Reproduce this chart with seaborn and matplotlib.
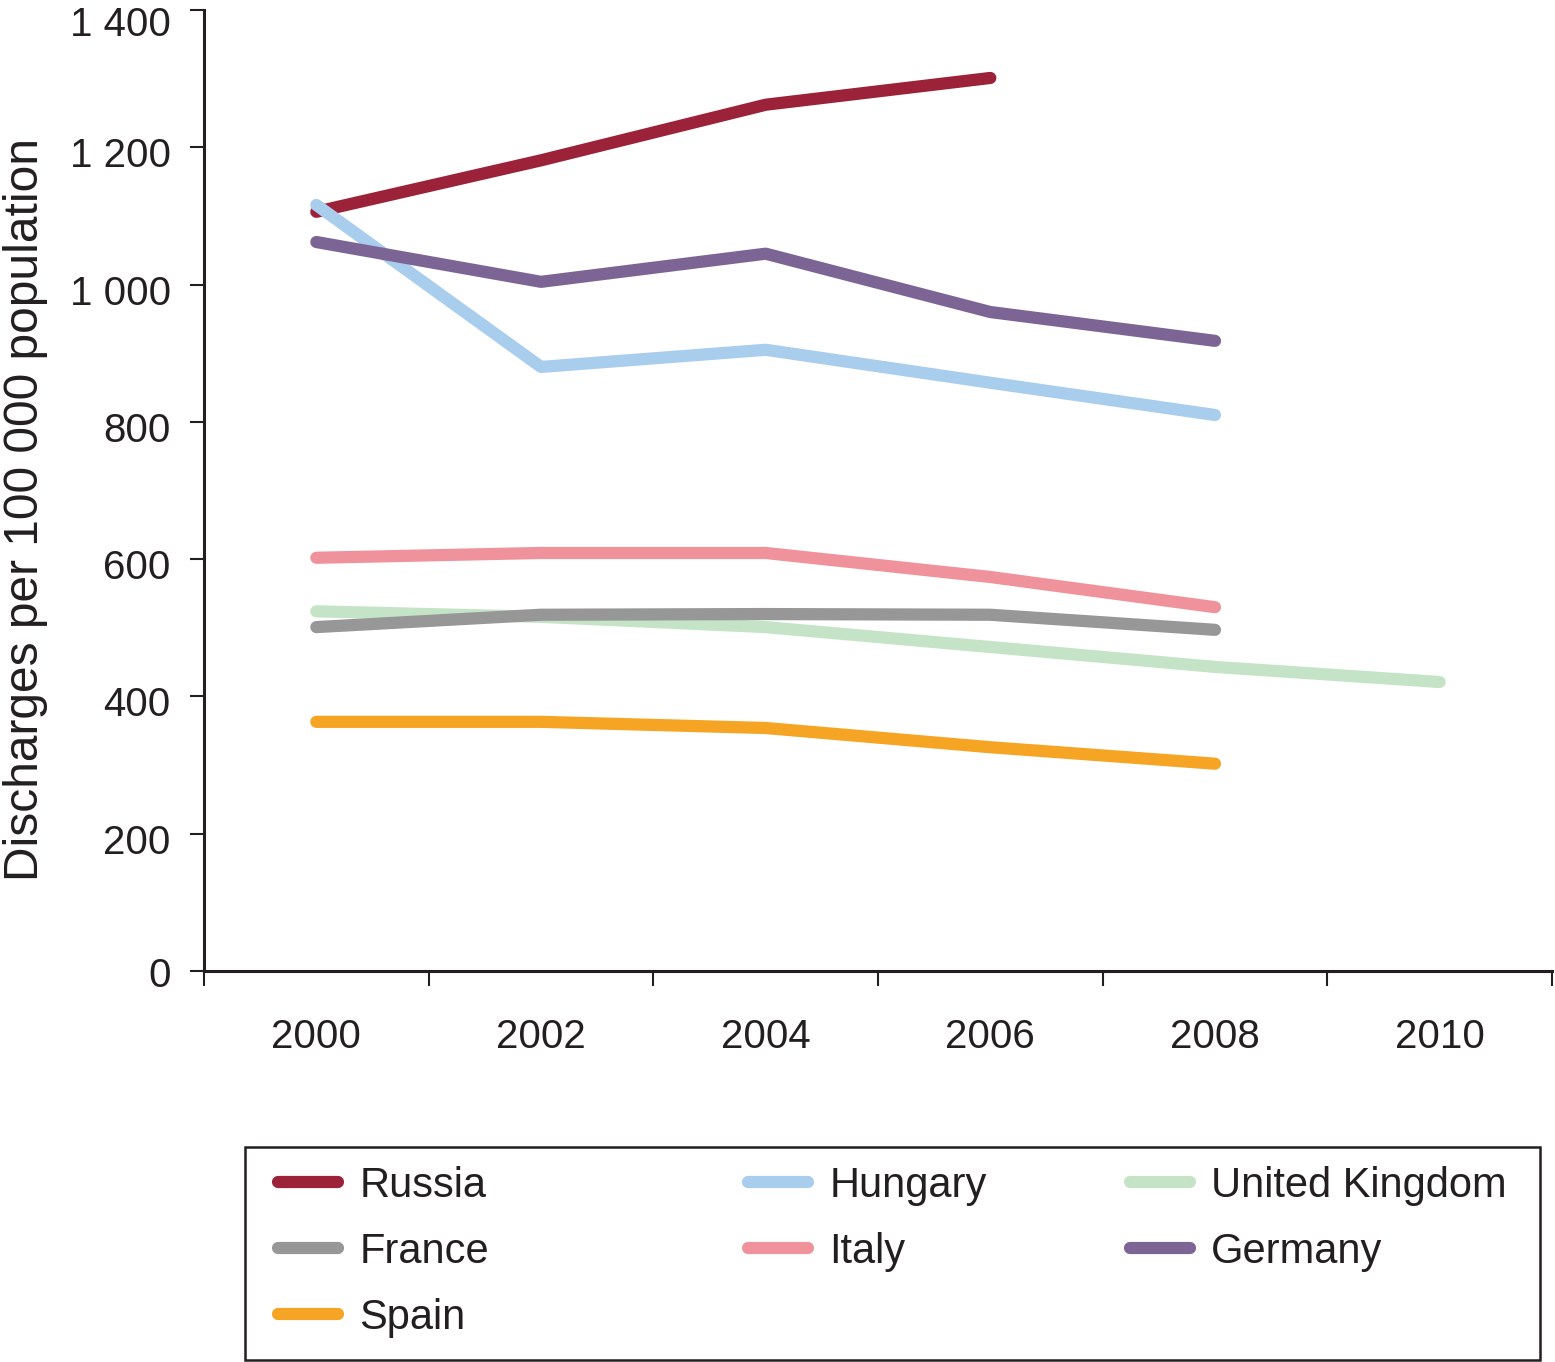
import pandas as pd
import matplotlib.pyplot as plt
import matplotlib.transforms as mtransforms
import seaborn as sns
from matplotlib.lines import Line2D
from matplotlib.patches import Rectangle
from matplotlib.ticker import FuncFormatter

# Values (discharges per 100 000 population)
years = [2000, 2002, 2004, 2006, 2008, 2010]
russia = [1106, 1181, 1262, 1301, None, None]
hungary = [1116, 880, 905, 857, 810, None]
united_kingdom = [524, 516, 501, 472, 443, 421]
france = [501, 519, 520, 519, 497, None]
italy = [602, 609, 609, 574, 530, None]
germany = [1062, 1004, 1045, 960, 918, None]
spain = [363, 363, 354, 326, 302, None]

countries = ['Russia', 'Hungary', 'United Kingdom', 'France', 'Italy', 'Germany', 'Spain']
series = [russia, hungary, united_kingdom, france, italy, germany, spain]
colors = {
    'Russia': '#9B2238',
    'Hungary': '#A9CDEC',
    'United Kingdom': '#C5E4C7',
    'France': '#979797',
    'Italy': '#F0929C',
    'Germany': '#7C6595',
    'Spain': '#F5A423',
}
# legend columns as in the reference
legend_cols = [['Russia', 'France', 'Spain'], ['Hungary', 'Italy'], ['United Kingdom', 'Germany']]

rows = []
for name, vals in zip(countries, series):
    for y, v in zip(years, vals):
        if v is not None:
            rows.append({'year': y, 'value': v, 'country': name})
df = pd.DataFrame(rows)

sns.set_style('white')
plt.rcParams['font.family'] = ['Liberation Sans', 'DejaVu Sans']

fig = plt.figure(figsize=(15.55, 13.62), dpi=100)
ax = fig.add_axes([204 / 1555, 1 - 971 / 1362, 1348 / 1555, 961 / 1362])

lw = 8.8
sns.lineplot(data=df, x='year', y='value', hue='country', hue_order=countries,
             palette=colors, linewidth=lw, solid_capstyle='round', legend=False, ax=ax)

ax.set_xlim(1999, 2011)
ax.set_ylim(0, 1400)
ax.set_xlabel('')
ax.set_ylabel('Discharges per 100 000 population', fontsize=34.5, color='#231f20')
ax.yaxis.set_label_coords(-0.116, 0.48)

for side in ['top', 'right']:
    ax.spines[side].set_visible(False)
for side in ['left', 'bottom']:
    ax.spines[side].set_color('#231f20')
    ax.spines[side].set_linewidth(2.2)

# ticks at odd years, labels at even years
ax.set_xticks(range(1999, 2012, 2))
ax.set_xticklabels([])
ax.set_xticks(years, minor=True)
ax.set_xticklabels([str(y) for y in years], minor=True)
ax.tick_params(axis='x', which='major', direction='out', length=11, width=1.5,
               color='#231f20', bottom=True)
ax.tick_params(axis='x', which='minor', length=0, pad=34, labelsize=29,
               labelcolor='#231f20')

ax.set_yticks(range(0, 1401, 200))
ax.yaxis.set_major_formatter(FuncFormatter(lambda v, p: f'{v:,.0f}'.replace(',', ' ')))
ax.tick_params(axis='y', direction='out', length=10, width=1.5, color='#231f20',
               left=True, pad=14, labelsize=29, labelcolor='#231f20')

# y tick labels sit a little below their ticks, the top one a bit more
for lab in ax.get_yticklabels():
    txt = lab.get_text()
    dy = -11 if txt == '1 400' else (-1 if txt == '0' else -5)
    lab.set_transform(lab.get_transform()
                      + mtransforms.ScaledTranslation(0, dy / 100, fig.dpi_scale_trans))

# legend: three columns placed like the reference, with a plain frame
col_x = [278, 748, 1130]
for xpx, names in zip(col_x, legend_cols):
    handles = [Line2D([0], [0], color=colors[n], lw=lw, solid_capstyle='round') for n in names]
    fig.legend(handles, names, loc='upper left',
               bbox_to_anchor=(xpx / 1555, 1 - 1166 / 1362),
               frameon=False, fontsize=30, borderpad=0, borderaxespad=0,
               handlelength=1.45, handletextpad=0.5, labelspacing=0.62,
               labelcolor='#231f20')

fig.patches.append(Rectangle((245 / 1555, 2 / 1362), 1295 / 1555, 213 / 1362,
                             transform=fig.transFigure, fill=False,
                             edgecolor='#231f20', linewidth=1.8))

plt.savefig('out.png', dpi=100)
